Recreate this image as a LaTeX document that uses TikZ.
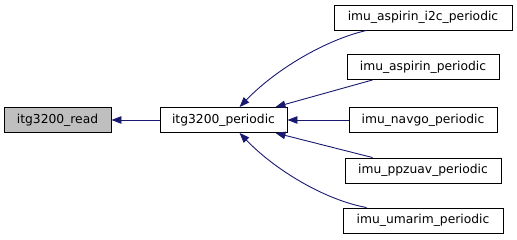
\documentclass[tikz,border=0pt]{standalone}
\usepackage{fontspec}
\setmainfont{DejaVu Sans}
\usetikzlibrary{arrows.meta,calc}
\definecolor{edgeblue}{HTML}{191970}
\definecolor{curfill}{HTML}{BFBFBF}
\tikzset{
  fn/.style={draw=black, line width=0.9pt, fill=white, inner sep=0pt,
    minimum height=25pt, font=\fontsize{12.3}{14}\selectfont},
  cur/.style={fn, fill=curfill},
  edge/.style={draw=edgeblue, line width=0.9pt,
    -{Triangle[length=10pt,width=7.5pt]}}
}
\begin{document}
\begin{tikzpicture}[x=1pt,y=1pt]
\useasboundingbox (0,0) rectangle (517,240);
% callee chain
\node[cur, minimum width=107pt] (read) at (57.5,120) {itg3200\_read};
\node[fn, minimum width=127pt] (per) at (223.5,120) {itg3200\_periodic};
% callers
\node[fn, minimum width=178pt] (i2c) at (423,222.5) {imu\_aspirin\_i2c\_periodic};
\node[fn, minimum width=152pt] (asp) at (423,173) {imu\_aspirin\_periodic};
\node[fn, minimum width=148pt] (nav) at (423,120) {imu\_navgo\_periodic};
\node[fn, minimum width=156pt] (ppz) at (423,69.5) {imu\_ppzuav\_periodic};
\node[fn, minimum width=160pt] (uma) at (423,19.5) {imu\_umarim\_periodic};
% call edges
\draw[edge] (per.west) -- (read.east);
\draw[edge] ($(i2c.south west)+(33,0)$) .. controls (325,200) and (275,170) .. ($(per.north west)+(80,0)$);
\draw[edge] ($(asp.south west)+(26,0)$) -- ($(per.north east)+(-12,0)$);
\draw[edge] (nav.west) -- (per.east);
\draw[edge] ($(ppz.north west)+(28,0)$) -- ($(per.south east)+(-12,0)$);
\draw[edge] ($(uma.north west)+(24,0)$) .. controls (325,40) and (275,70) .. ($(per.south west)+(80,0)$);
\end{tikzpicture}
\end{document}
